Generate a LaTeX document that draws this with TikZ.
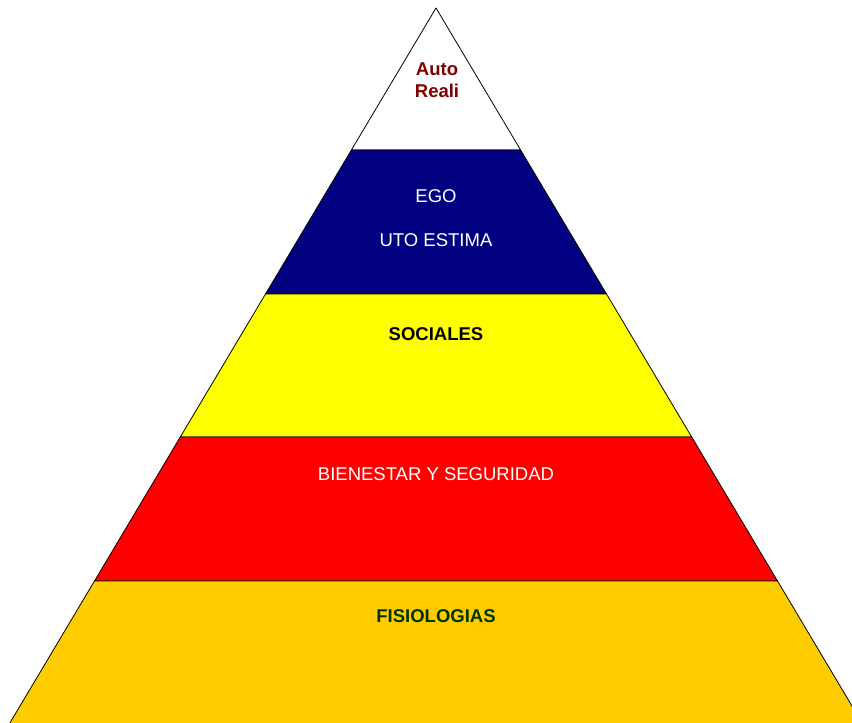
\documentclass[tikz,border=0pt]{standalone}
\usepackage{fontspec}
\setmainfont{Liberation Sans}
\usepackage{tikz}

\definecolor{egoblue}{RGB}{0,0,128}
\definecolor{socyellow}{RGB}{255,255,0}
\definecolor{segred}{RGB}{255,0,0}
\definecolor{fisorange}{RGB}{255,204,0}
\definecolor{autored}{RGB}{128,0,0}
\definecolor{fisgreen}{RGB}{0,51,0}

\begin{document}
\begin{tikzpicture}[x=1pt, y=-1pt,
    layer/.style={draw=black, line width=0.8pt, line join=round},
    label/.style={font=\fontsize{18.5}{22}\selectfont, align=center, inner sep=0pt},
    boldlabel/.style={label, font=\fontsize{18.5}{22}\selectfont\bfseries}]
                % Frame
                \useasboundingbox (0,0) rectangle (852,723);
                \clip (0,0) rectangle (852,723);

                % Layers, top to bottom
                \draw[layer, fill=white] (436,8)--(520.6,150)--(351.4,150)--cycle;
                \draw[layer, fill=egoblue] (351.4,150)--(520.6,150)--(606.5,294)--(265.5,294)--cycle;
                \draw[layer, fill=socyellow] (265.5,294)--(606.5,294)--(691.7,437)--(180.3,437)--cycle;
                \draw[layer, fill=segred] (180.3,437)--(691.7,437)--(777.5,581)--(94.5,581)--cycle;
                \draw[layer, fill=fisorange] (94.5,581)--(777.5,581)--(866.3,730)--(5.7,730)--cycle;

                % Texts
                \node[boldlabel, text=autored] (auto) at (437,80) {Auto\\Reali};
                \node[label, text=white] (ego) at (436,196) {EGO};
                \node[label, text=white] (estima) at (436,240) {UTO ESTIMA};
                \node[boldlabel, text=black] (sociales) at (436,334) {SOCIALES};
                \node[label, text=white] (bienestar) at (436,474) {BIENESTAR Y SEGURIDAD};
                \node[boldlabel, text=fisgreen] (fisio) at (436,616) {FISIOLOGIAS};
            \end{tikzpicture}
\end{document}
